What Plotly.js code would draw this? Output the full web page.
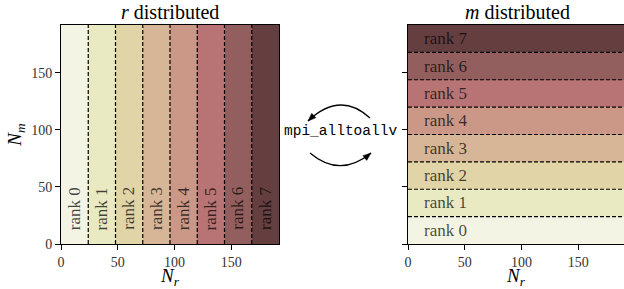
<!DOCTYPE html>
<html>
<head>
<meta charset="utf-8">
<script src="https://cdn.plot.ly/plotly-3.0.1.min.js"></script>
</head>
<body style="margin:0;background:#fff">
<div id="chart" style="width:624px;height:289px"></div>
<script>
// ---- data ----
const totalSize = 192;
const rankIds = [0, 1, 2, 3, 4, 5, 6, 7];
const rankLabels = ['rank 0', 'rank 1', 'rank 2', 'rank 3', 'rank 4', 'rank 5', 'rank 6', 'rank 7'];
const bandStarts = [0, 24, 48, 72, 96, 120, 144, 168];
const bandSize = 24;
const bandBoundaries = [24, 48, 72, 96, 120, 144, 168];
const rankColors = ['#f4f4e4', '#e9e9c2', '#e1d4a6', '#d6b696', '#cb9888', '#b87474', '#935f5e', '#653f40'];
const tickVals = [0, 50, 100, 150];
const tickText = ['0', '50', '100', '150'];

// ---- layout geometry ----
const W = 624, H = 289;
const M = {l: 61, r: 0, t: 25, b: 45};
const PW = W - M.l - M.r, PH = H - M.t - M.b;
const leftDomain = [0, 218 / PW];
const rightDomain = [(408 - M.l) / PW, 1];
const rightRangeMax = totalSize * (PW - (408 - M.l)) / 218;
const px = x => (x - M.l) / PW;
const py = y => (H - M.b - y) / PH;

const serif = 'Liberation Serif';
const mono = 'Liberation Mono';
const centers = bandStarts.map(s => s + bandSize / 2);
const fullVals = rankIds.map(() => totalSize);

const traces = [];
traces.push({
  type: 'bar', x: centers, y: fullVals, width: rankIds.map(() => bandSize),
  marker: {color: rankColors, line: {width: 0}}, xaxis: 'x', yaxis: 'y', hoverinfo: 'skip', showlegend: false
});
traces.push({
  type: 'bar', orientation: 'h', y: centers, x: fullVals, width: rankIds.map(() => bandSize),
  marker: {color: rankColors, line: {width: 0}}, xaxis: 'x2', yaxis: 'y2', hoverinfo: 'skip', showlegend: false
});
const vx = [], vy = [], hx = [], hy = [];
bandBoundaries.forEach(b => { vx.push(b, b, null); vy.push(0, totalSize, null); hx.push(0, totalSize, null); hy.push(b, b, null); });
traces.push({type: 'scatter', mode: 'lines', x: vx, y: vy, xaxis: 'x', yaxis: 'y',
  line: {color: '#000', width: 1.2, dash: '4px,2px'}, hoverinfo: 'skip', showlegend: false, connectgaps: false});
traces.push({type: 'scatter', mode: 'lines', x: hx, y: hy, xaxis: 'x2', yaxis: 'y2',
  line: {color: '#000', width: 1.2, dash: '4px,2px'}, hoverinfo: 'skip', showlegend: false, connectgaps: false});

const labelFont = {family: serif, size: 17, color: 'rgba(0,0,0,0.72)'};
const annotations = [];
rankIds.forEach((r, i) => {
  annotations.push({xref: 'x', yref: 'y', x: centers[i], y: 31, text: rankLabels[i], textangle: -90,
    showarrow: false, xanchor: 'center', yanchor: 'middle', font: labelFont});
  annotations.push({xref: 'x2', yref: 'y2', x: 12, y: centers[i], text: rankLabels[i],
    showarrow: false, xanchor: 'left', yanchor: 'middle', font: labelFont});
});
annotations.push({xref: 'paper', yref: 'paper', x: px(340.5), y: py(131), text: 'mpi_alltoallv', showarrow: false,
  xanchor: 'center', yanchor: 'middle', font: {family: mono, size: 14.5, color: '#000'}});
annotations.push({xref: 'paper', yref: 'paper', x: px(169.5), y: py(12), text: '<i>r</i> distributed', showarrow: false,
  xanchor: 'center', yanchor: 'middle', font: {family: serif, size: 20, color: '#000'}});
annotations.push({xref: 'paper', yref: 'paper', x: px(517), y: py(12), text: '<i>m</i> distributed', showarrow: false,
  xanchor: 'center', yanchor: 'middle', font: {family: serif, size: 20, color: '#000'}});

function arc(p0, c, p2) {
  return `M ${px(p0[0])} ${py(p0[1])} Q ${px(c[0])} ${py(c[1])} ${px(p2[0])} ${py(p2[1])}`;
}
function head(tip, from) {
  const dx = tip[0] - from[0], dy = tip[1] - from[1];
  const L = Math.hypot(dx, dy), ux = dx / L, uy = dy / L;
  const len = 8, hw = 3;
  const bx = tip[0] - ux * len, by = tip[1] - uy * len;
  const a = [bx - uy * hw, by + ux * hw], b = [bx + uy * hw, by - ux * hw];
  return `M ${px(tip[0])} ${py(tip[1])} L ${px(a[0])} ${py(a[1])} L ${px(b[0])} ${py(b[1])} Z`;
}
const topArc = {p0: [370, 118], c: [340, 90.5], p2: [308, 121]};
const botArc = {p0: [310, 153], c: [340, 178.4], p2: [371, 153]};
const shapes = [
  {type: 'path', xref: 'paper', yref: 'paper', path: arc(topArc.p0, topArc.c, topArc.p2), line: {color: '#000', width: 1.3}},
  {type: 'path', xref: 'paper', yref: 'paper', path: head(topArc.p2, topArc.c), line: {color: '#000', width: 0.5}, fillcolor: '#000'},
  {type: 'path', xref: 'paper', yref: 'paper', path: arc(botArc.p0, botArc.c, botArc.p2), line: {color: '#000', width: 1.3}},
  {type: 'path', xref: 'paper', yref: 'paper', path: head(botArc.p2, botArc.c), line: {color: '#000', width: 0.5}, fillcolor: '#000'}
];

const axBase = {
  showgrid: false, zeroline: false, showline: true, linecolor: '#000', linewidth: 1,
  ticks: 'outside', ticklen: 5, tickwidth: 1, tickcolor: '#000',
  tickvals: tickVals, ticktext: tickText, tickfont: {family: serif, size: 14, color: '#333'}
};
const axTitleFont = {family: serif, size: 19, color: '#000'};
const layout = {
  width: W, height: H, margin: M, paper_bgcolor: '#fff', plot_bgcolor: '#fff',
  showlegend: false, bargap: 0,
  xaxis: Object.assign({}, axBase, {domain: leftDomain, range: [0, totalSize], mirror: true, anchor: 'y',
    title: {text: '<i>N</i><sub><i>r</i></sub>', font: axTitleFont, standoff: 3}}),
  yaxis: Object.assign({}, axBase, {domain: [0, 1], range: [0, totalSize], mirror: true, anchor: 'x',
    title: {text: '<i>N</i><sub><i>m</i></sub>', font: axTitleFont, standoff: 4}}),
  xaxis2: Object.assign({}, axBase, {domain: rightDomain, range: [0, rightRangeMax], mirror: true, anchor: 'y2',
    title: {text: '<i>N</i><sub><i>r</i></sub>', font: axTitleFont, standoff: 3}}),
  yaxis2: Object.assign({}, axBase, {domain: [0, 1], range: [0, totalSize], mirror: false, anchor: 'x2', showticklabels: false}),
  annotations: annotations, shapes: shapes
};
Plotly.newPlot('chart', traces, layout, {staticPlot: true, displayModeBar: false});
</script>
</body>
</html>
